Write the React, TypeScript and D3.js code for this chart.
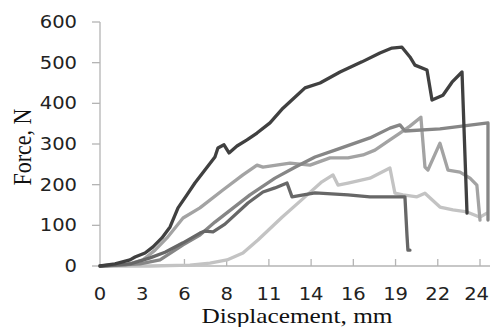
import React from "react";
import * as d3 from "d3";

// x tick positions (mm) and their labels
const xTickValues = [0, 2.7, 5.4, 8.1, 10.8, 13.5, 16.2, 18.9, 21.6, 24.3];
const xTickLabels = ["0", "3", "6", "8", "11", "14", "16", "19", "22", "24"];
const yTickValues = [0, 100, 200, 300, 400, 500, 600];

// Specimen 1 (darkest)
const disp1 = [0, 0.96, 1.92, 2.24, 2.88, 3.39, 3.96, 4.48, 4.99, 5.56, 6.07, 6.71, 7.35, 7.54, 7.93, 8.25, 8.76, 9.4, 10.04, 10.87, 11.7, 12.6, 13.11, 14.07, 15.35, 16.75, 17.9, 18.67, 19.31, 19.82, 20.14, 20.91, 21.23, 21.93, 22.51, 23.15, 23.47];
const force1 = [0, 5, 15, 22, 32, 47, 69, 96, 143, 175, 204, 236, 268, 290, 298, 278, 295, 310, 327, 352, 388, 420, 438, 450, 477, 502, 524, 536, 538, 514, 494, 482, 408, 420, 452, 477, 130];

// Specimen 2 (dark grey)
const disp2 = [0, 1.92, 3.2, 4.16, 5.31, 6.39, 6.71, 7.23, 7.99, 9.46, 10.42, 11.19, 11.96, 12.28, 13.75, 15.86, 17.26, 19.5, 19.63, 19.69, 19.82];
const force2 = [0, 5, 20, 34, 57, 81, 86, 84, 103, 155, 182, 192, 204, 170, 180, 175, 170, 170, 76, 39, 39];

// Specimen 3 (mid grey)
const disp3 = [0, 2.56, 3.84, 5.31, 6.39, 7.35, 9.59, 11.19, 12.47, 13.75, 15.03, 17.26, 18.54, 19.18, 19.5, 21.74, 24.81, 24.81];
const force3 = [0, 5, 15, 52, 76, 108, 175, 216, 243, 268, 285, 315, 339, 347, 332, 337, 352, 113];

// Specimen 4 (light grey)
const disp4 = [0, 1.6, 2.75, 3.52, 4.28, 5.31, 6.39, 7.86, 9.14, 10.04, 10.42, 12.15, 13.43, 14.71, 15.86, 16.82, 17.58, 18.54, 19.18, 19.82, 20.52, 20.78, 20.97, 21.74, 22.25, 23.02, 23.66, 24.1, 24.3];
const force4 = [0, 2, 15, 39, 69, 118, 143, 187, 224, 248, 243, 253, 248, 266, 266, 273, 285, 310, 327, 344, 366, 243, 236, 302, 236, 231, 216, 199, 113];

// Specimen 5 (palest)
const disp5 = [0, 3.2, 5.75, 7.03, 8.12, 9.14, 10.1, 11.64, 13.11, 14.19, 14.9, 15.22, 15.86, 17.26, 18.54, 18.86, 19.37, 20.27, 20.78, 21.74, 22.57, 23.47, 24.3, 24.74];
const force5 = [0, 0, 2, 7, 15, 32, 64, 120, 170, 207, 224, 199, 204, 216, 241, 179, 175, 170, 179, 145, 138, 133, 120, 130];

const series = [
  { d: disp5, f: force5, color: "#c3c3c3" },
  { d: disp4, f: force4, color: "#a3a3a3" },
  { d: disp3, f: force3, color: "#868686" },
  { d: disp2, f: force2, color: "#676767" },
  { d: disp1, f: force1, color: "#404040" },
];

export default function App() {
  const W = 490, H = 327;
  const x = d3.scaleLinear().domain([0, 24.3]).range([100, 480]);
  const y = d3.scaleLinear().domain([0, 600]).range([266, 22]);
  const line = d3
    .line<[number, number]>()
    .x((p) => x(p[0]))
    .y((p) => y(p[1]));
  const axisColor = "#b4b4b4";
  const sx = 1.15;

  return (
    <svg
      width={W}
      height={H}
      style={{ position: "absolute", left: 0, top: 0, background: "#fff" }}
    >
      {/* axes */}
      <line x1={x(0)} x2={x(0)} y1={y(600)} y2={y(0)} stroke={axisColor} strokeWidth={1.3} />
      <line x1={x(0)} x2={490} y1={y(0)} y2={y(0)} stroke={axisColor} strokeWidth={1.3} />
      {yTickValues.map((v) => (
        <g key={"y" + v}>
          <line x1={x(0) - 8} x2={x(0)} y1={y(v)} y2={y(v)} stroke={axisColor} strokeWidth={1.3} />
          <text
            transform={`translate(${x(0) - 23},${y(v) + 6}) scale(${sx},1)`}
            textAnchor="end"
            fontFamily="DejaVu Sans"
            fontSize={17}
            fill="#222"
          >
            {v}
          </text>
        </g>
      ))}
      {xTickValues.map((v, i) => {
        const last = i === xTickValues.length - 1;
        return (
          <g key={"x" + i}>
            {i > 0 && (
              <line x1={x(v)} x2={x(v)} y1={y(0)} y2={y(0) - 7} stroke={axisColor} strokeWidth={1.3} />
            )}
            <text
              transform={`translate(${last ? 489 : x(v)},${300}) scale(${sx},1)`}
              textAnchor={last ? "end" : "middle"}
              fontFamily="DejaVu Sans"
              fontSize={17}
              fill="#222"
            >
              {xTickLabels[i]}
            </text>
          </g>
        );
      })}
      {/* lines */}
      {series.map((s, i) => (
        <path
          key={i}
          d={line(s.d.map((dv, j) => [dv, s.f[j]] as [number, number])) || ""}
          fill="none"
          stroke={s.color}
          strokeWidth={3.3}
          strokeLinejoin="round"
          strokeLinecap="round"
        />
      ))}
      {/* titles */}
      <text
        transform={`translate(297,323) scale(${sx},1)`}
        textAnchor="middle"
        fontFamily="Liberation Serif"
        fontSize={22}
        fill="#111"
      >
        Displacement, mm
      </text>
      <text
        transform={`translate(31,147) scale(${sx},1) rotate(-90)`}
        textAnchor="middle"
        fontFamily="Liberation Serif"
        fontSize={22}
        fill="#111"
      >
        Force, N
      </text>
    </svg>
  );
}
